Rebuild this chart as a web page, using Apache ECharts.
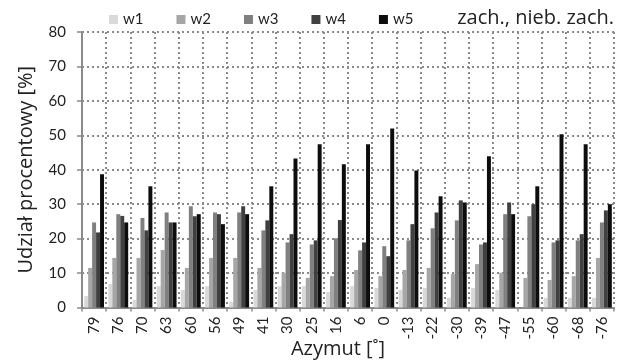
<!DOCTYPE html>
<html>
<head>
<meta charset="utf-8">
<script src="https://cdn.jsdelivr.net/npm/echarts@6/dist/echarts.min.js"></script>
<style>
  html, body { margin: 0; padding: 0; background: #fff; }
  #chart { width: 624px; height: 364px; }
</style>
</head>
<body>
<div id="chart"></div>
<script>
// Azimuth categories (degrees)
const azimuths = ['79', '76', '70', '63', '60', '56', '49', '41', '30', '25', '16', '6', '0',
                  '-13', '-22', '-30', '-39', '-47', '-55', '-60', '-68', '-76'];

// Percentage share per class
const w1 = [3.3, 6.8, 2.2, 6.2, 5.1, 6.2, 1.6, 5.1, 6.2, 6.2, 4.5, 6.2, 5.7,
            5.1, 5.7, 2.8, 5.7, 5.1, 0, 2.8, 2.8, 2.8];
const w2 = [11.5, 14.4, 14.4, 16.7, 11.5, 14.4, 14.4, 11.5, 10.1, 8.6, 9.1, 10.9, 9.1,
            10.9, 11.5, 9.7, 12.6, 10.1, 8.6, 8.0, 9.1, 14.4];
const w3 = [24.7, 27.1, 26.0, 27.6, 29.4, 27.6, 27.6, 22.4, 18.9, 18.3, 20.1, 16.6, 17.8,
            19.5, 23.0, 25.3, 18.3, 27.1, 26.5, 18.9, 19.5, 24.7];
const w4 = [21.8, 26.6, 22.4, 24.7, 26.5, 27.1, 29.4, 25.3, 21.3, 19.5, 25.4, 18.9, 14.9,
            24.2, 27.6, 31.1, 18.9, 30.5, 30.0, 19.5, 21.3, 28.2];
const w5 = [38.7, 24.7, 35.2, 24.7, 27.1, 24.2, 27.1, 35.2, 43.3, 47.4, 41.6, 47.4, 52.0,
            39.8, 32.3, 30.5, 43.9, 27.1, 35.2, 50.3, 47.4, 30.0];

const seriesNames = ['w1', 'w2', 'w3', 'w4', 'w5'];
const seriesValues = [w1, w2, w3, w4, w5];
const seriesColors = ['#d9d9d9', '#a6a6a6', '#808080', '#404040', '#0d0d0d'];

// Value axis ticks
const yMin = 0, yMax = 80, yStep = 10;

const FONT = 'Lato, "Liberation Sans", sans-serif';
const NAME_FONT = '"Open Sans", "Liberation Sans", sans-serif';
const TEXT = '#222';
const GRID_LINE = { type: [2, 3], color: '#8a8a8a', width: 2 };

const chart = echarts.init(document.getElementById('chart'), null, { renderer: 'canvas' });

chart.setOption({
  animation: false,
  backgroundColor: '#fff',
  textStyle: { fontFamily: FONT },
  title: {
    text: 'zach., nieb. zach.',
    right: 5,
    top: 3,
    textStyle: { fontFamily: NAME_FONT, fontSize: 20, fontWeight: 'normal', color: TEXT }
  },
  legend: {
    data: seriesNames,
    left: 104,
    top: 7,
    itemWidth: 9,
    itemHeight: 9,
    itemGap: 33,
    icon: 'rect',
    textStyle: { fontFamily: FONT, fontSize: 15, color: TEXT }
  },
  grid: { left: 82, right: 10, top: 32, bottom: 56.5, containLabel: false, outerBoundsMode: 'none' },
  xAxis: {
    type: 'category',
    data: azimuths,
    boundaryGap: true,
    name: 'Azymut [˚]',
    nameLocation: 'middle',
    nameGap: 32,
    nameMoveOverlap: false,
    nameTextStyle: { fontFamily: NAME_FONT, fontSize: 20, color: TEXT, padding: [0, 20, 0, 0] },
    axisLine: { lineStyle: { color: '#8a8a8a', width: 2 } },
    axisTick: { show: true, interval: 0, length: 4, lineStyle: { color: '#8a8a8a', width: 1.5 } },
    axisLabel: { interval: 0, rotate: 90, margin: 9, fontFamily: FONT, fontSize: 15, color: TEXT },
    splitLine: { show: true, interval: 0, lineStyle: GRID_LINE }
  },
  yAxis: {
    type: 'value',
    min: yMin,
    max: yMax,
    interval: yStep,
    name: 'Udział procentowy [%]',
    nameLocation: 'middle',
    nameGap: 46,
    nameMoveOverlap: false,
    nameTextStyle: { fontFamily: NAME_FONT, fontSize: 20, color: TEXT },
    axisLine: { show: true, lineStyle: { color: '#8a8a8a', width: 2 } },
    axisTick: { show: true, length: 5, lineStyle: { color: '#8a8a8a', width: 1.5 } },
    axisLabel: { margin: 16, fontFamily: FONT, fontSize: 15, color: TEXT },
    splitLine: { show: true, lineStyle: GRID_LINE }
  },
  series: seriesNames.map((name, i) => ({
    name: name,
    type: 'bar',
    data: seriesValues[i],
    barGap: '0%',
    barCategoryGap: '18%',
    itemStyle: { color: seriesColors[i] }
  }))
});
</script>
</body>
</html>
